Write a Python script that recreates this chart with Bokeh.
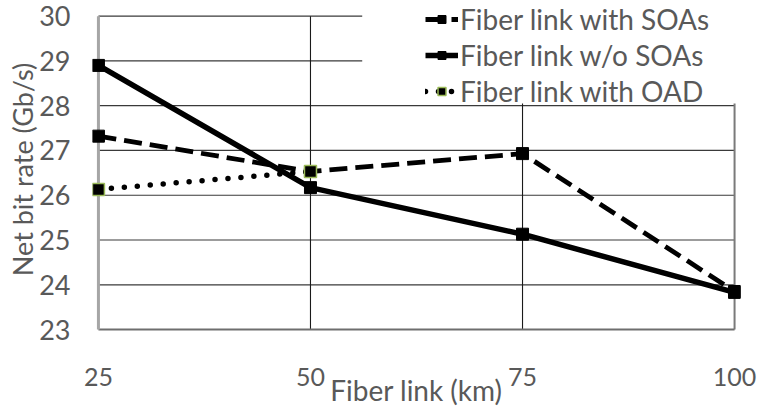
from bokeh.plotting import figure
from bokeh.models import FixedTicker, Range1d, Legend, LegendItem, BoxAnnotation
from bokeh.embed import file_html
from bokeh.resources import INLINE

# ---- data ----
distance_km = [25, 50, 75, 100]
rate_with_soa = [27.32, 26.53, 26.93, 23.85]
rate_without_soa = [28.90, 26.17, 25.13, 23.83]
oad_distance_km = [25, 50]
rate_with_oad = [26.13, 26.53]
y_ticks = [23, 24, 25, 26, 27, 28, 29, 30]
x_ticks = [25, 50, 75, 100]
series_names = ["Fiber link with SOAs", "Fiber link w/o SOAs", "Fiber link with OAD"]

FONT = "Lato"
TXT = "#595959"

p = figure(width=759, height=410, output_backend="svg", toolbar_location=None,
           x_range=Range1d(24.3, 100.7), y_range=Range1d(22.8, 30.35),
           min_border_left=92, min_border_right=19, min_border_top=0,
           min_border_bottom=72)
p.outline_line_color = None
p.xgrid.visible = False
p.ygrid.visible = False
p.background_fill_color = "white"
p.border_fill_color = "white"

# gridlines drawn from the tick lists so they stop at the axis extents
x0, x1 = x_ticks[0], x_ticks[-1]
y0, y1 = y_ticks[0], y_ticks[-1]
hy = y_ticks[1:]
p.segment(x0=[x0] * len(hy), x1=[x1] * len(hy), y0=hy, y1=hy,
          line_color="#3a3a3a", line_width=1.2)
vx = x_ticks[1:-1]
p.segment(x0=vx, x1=vx, y0=[y0] * len(vx), y1=[y1] * len(vx),
          line_color="#1a1a1a", line_width=1.1)
# frame lines
p.segment(x0=[x1], x1=[x1], y0=[y0], y1=[y1], line_color="#7a7a7a", line_width=2)
p.segment(x0=[x0], x1=[x1], y0=[y0], y1=[y0], line_color="#6e6e6e", line_width=2)
p.segment(x0=[x0], x1=[x0], y0=[y0], y1=[y1], line_color="#a6a6a6", line_width=3)

# series
l1 = p.line(distance_km, rate_with_soa, line_color="black", line_width=4.8,
            line_dash="18 8")
s1 = p.scatter(distance_km, rate_with_soa, marker="square", size=12,
               fill_color="black", line_color="black")
l2 = p.line(distance_km, rate_without_soa, line_color="black", line_width=5.5)
s2 = p.scatter(distance_km, rate_without_soa, marker="square", size=12,
               fill_color="black", line_color="black")
l3 = p.line(oad_distance_km, rate_with_oad, line_color="black", line_width=5.5,
            line_dash="0 13", line_cap="round")
s3 = p.scatter(oad_distance_km, rate_with_oad, marker="square", size=12,
               fill_color="black", line_color="#9bbb59", line_width=1.5)

# axes
p.xaxis.ticker = FixedTicker(ticks=x_ticks)
p.yaxis.ticker = FixedTicker(ticks=y_ticks)
for ax in (p.xaxis[0], p.yaxis[0]):
    ax.axis_line_color = None
    ax.major_tick_line_color = None
    ax.minor_tick_line_color = None
    ax.major_label_text_font = FONT
    ax.major_label_text_color = TXT
    ax.axis_label_text_font = FONT
    ax.axis_label_text_color = TXT
    ax.axis_label_text_font_style = "normal"
p.yaxis.major_label_text_font_size = "27px"
p.yaxis.major_label_standoff = 16
p.yaxis.axis_label = "Net bit rate (Gb/s)"
p.yaxis.axis_label_text_font_size = "27px"
p.yaxis.axis_label_standoff = -3
p.xaxis.major_label_text_font_size = "25px"
p.xaxis.major_label_standoff = 23
p.xaxis.axis_label = "Fiber link (km)"
p.xaxis.axis_label_text_font_size = "28px"
p.xaxis.axis_label_standoff = -16

# white area behind the legend
p.add_layout(BoxAnnotation(left=56.1, bottom=28.05, fill_color="white",
                           fill_alpha=1.0, line_color=None))

legend = Legend(items=[LegendItem(label=series_names[0], renderers=[l1, s1]),
                       LegendItem(label=series_names[1], renderers=[l2, s2]),
                       LegendItem(label=series_names[2], renderers=[l3, s3])],
                location=(333, 230), padding=0, spacing=2, margin=0,
                glyph_width=33, glyph_height=20, label_standoff=2,
                label_text_font=FONT, label_text_font_size="28px",
                label_text_color=TXT, background_fill_alpha=0,
                border_line_color=None)
p.add_layout(legend, "center")

open("out.html", "w").write(file_html(p, INLINE))
